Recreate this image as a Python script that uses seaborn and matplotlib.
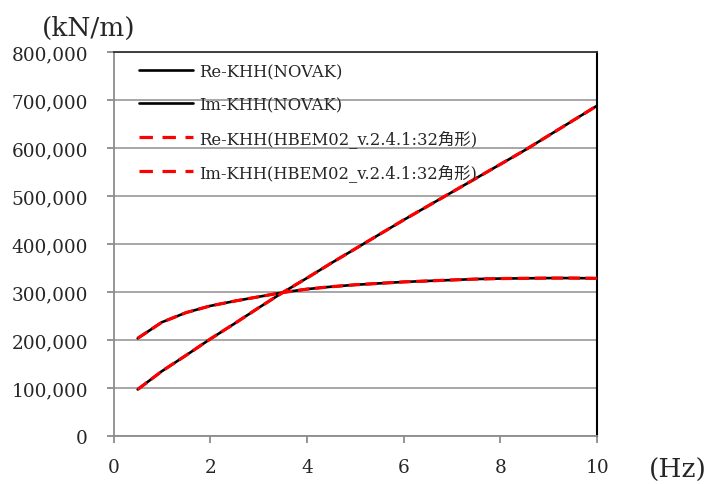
import matplotlib
matplotlib.use("Agg")
import matplotlib.pyplot as plt
import seaborn as sns
import pandas as pd
from matplotlib.ticker import FuncFormatter

# ---- data ----
freq = [0.5, 1.0, 1.5, 2.0, 2.5, 3.0, 3.5, 4.0, 4.5, 5.0,
        5.5, 6.0, 6.5, 7.0, 7.5, 8.0, 8.5, 9.0, 9.5, 10.0]
re_novak = [203500, 237000, 257000, 271000, 281000, 290000, 299000, 306000, 311000, 315000,
            318000, 321000, 323000, 325000, 327000, 328000, 328500, 329000, 329000, 328500]
im_novak = [97000, 135000, 168000, 202000, 234000, 267000, 299000, 329000, 360000, 390000,
            420000, 450000, 479000, 508000, 537000, 566000, 595000, 626000, 657000, 688000]
re_hbem = [203500, 237000, 257000, 271000, 281000, 290000, 299000, 306000, 311000, 315000,
           318000, 321000, 323000, 325000, 327000, 328000, 328500, 329000, 329000, 328500]
im_hbem = [97000, 135000, 168000, 202000, 234000, 267000, 299000, 329000, 360000, 390000,
           420000, 450000, 479000, 508000, 537000, 566000, 595000, 626000, 657000, 688000]

labels = ["Re-KHH(NOVAK)", "Im-KHH(NOVAK)",
          "Re-KHH(HBEM02_v.2.4.1:32角形)", "Im-KHH(HBEM02_v.2.4.1:32角形)"]
yticks = [0, 100000, 200000, 300000, 400000, 500000, 600000, 700000, 800000]
xticks = [0, 2, 4, 6, 8, 10]

sns.set_style("white")
plt.rcParams['font.family'] = ['DejaVu Serif', 'Noto Sans CJK JP']

W, H = 710, 485
fig = plt.figure(figsize=(W / 100, H / 100), dpi=100)
L, R, T, B = 113.5, 597, 53, 437
ax = fig.add_axes([L / W, 1 - B / H, (R - L) / W, (B - T) / H])

df = pd.DataFrame({"freq": freq, "re_novak": re_novak, "im_novak": im_novak,
                   "re_hbem": re_hbem, "im_hbem": im_hbem})

sns.lineplot(data=df, x="freq", y="re_novak", ax=ax, color="black", lw=1.9,
             label=labels[0], zorder=2)
sns.lineplot(data=df, x="freq", y="im_novak", ax=ax, color="black", lw=1.9,
             label=labels[1], zorder=2)
sns.lineplot(data=df, x="freq", y="re_hbem", ax=ax, color="#ff0000", lw=2.3,
             linestyle=(0, (3.6, 1.7)), label=labels[2], zorder=3)
sns.lineplot(data=df, x="freq", y="im_hbem", ax=ax, color="#ff0000", lw=2.3,
             linestyle=(0, (3.6, 1.7)), label=labels[3], zorder=3)

ax.set_xlim(0, 10)
ax.set_ylim(0, 800000)
ax.set_xticks(xticks)
ax.set_yticks(yticks)
ax.yaxis.set_major_formatter(FuncFormatter(lambda v, p: f"{v:,.0f}"))
ax.set_xlabel("")
ax.set_ylabel("")

gray = "#8c8c8c"
ax.grid(axis="y", color="#a0a0a0", lw=1.3)
ax.grid(axis="x", visible=False)
ax.set_axisbelow(True)
for s in ["left", "bottom"]:
    ax.spines[s].set_color(gray)
    ax.spines[s].set_linewidth(1.3)
ax.spines["top"].set_color("#333333")
ax.spines["top"].set_linewidth(1.3)
ax.spines["right"].set_color("black")
ax.spines["right"].set_linewidth(1.5)
ax.tick_params(axis="y", direction="out", length=5, width=1.3, color=gray,
               pad=13.5, labelsize=13.3, left=True)
ax.tick_params(axis="x", direction="out", length=5, width=1.3, color=gray,
               pad=10.5, labelsize=13.3, bottom=True)

leg = ax.legend(loc="upper left", frameon=False, fontsize=11.8,
                bbox_to_anchor=(25 / (R - L), 1 - 11 / (B - T)), borderaxespad=0,
                borderpad=0, labelspacing=0.98, handlelength=3.3, handletextpad=0.4)
for h in leg.get_lines()[2:]:
    h.set_linestyle((0, (4.2, 3.0)))

fig.text(42 / W, 1 - 28 / H, "(kN/m)", fontsize=19, ha="left", va="center")
fig.text(649 / W, 1 - 470 / H, "(Hz)", fontsize=19, ha="left", va="center")

fig.savefig("out.png", dpi=100)
